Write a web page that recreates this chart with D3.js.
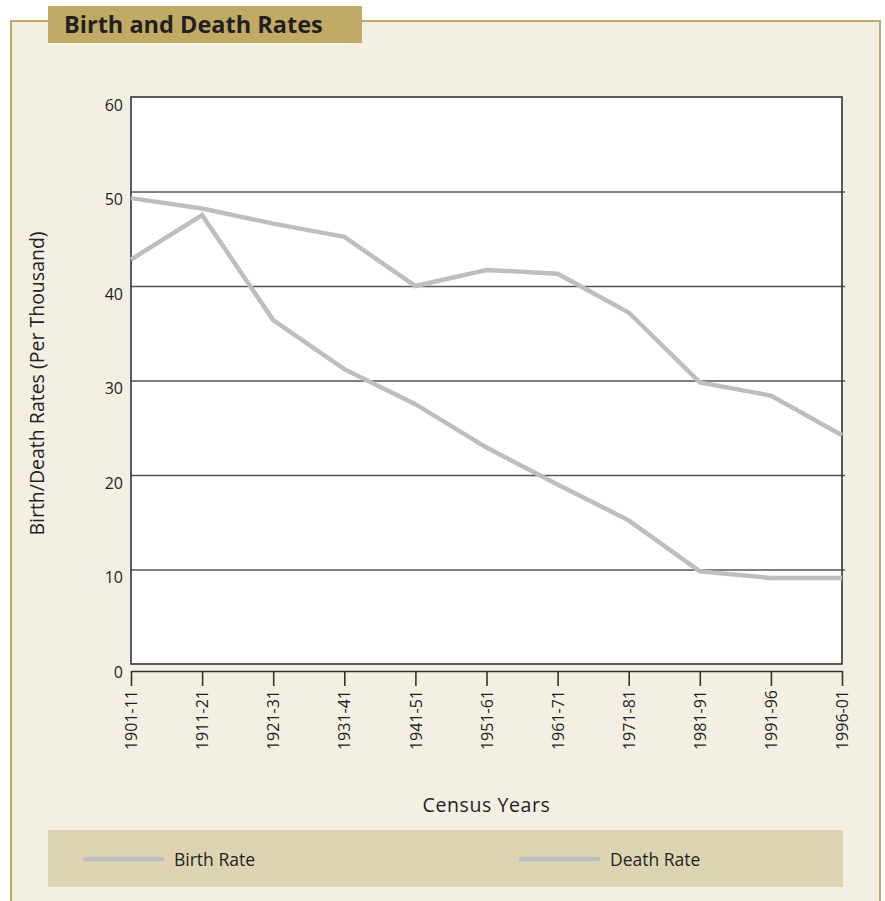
<!DOCTYPE html>
<html>
<head>
<meta charset="utf-8">
<script src="https://cdn.jsdelivr.net/npm/d3@7"></script>
<style>
  html, body { margin: 0; padding: 0; background: #ffffff; }
  svg { display: block; }
  text { font-family: "Open Sans", "Noto Sans", sans-serif; fill: #231f20; }
</style>
</head>
<body>
<svg id="chart" width="885" height="901"></svg>
<script>
// Census periods
const periods = ["1901-11", "1911-21", "1921-31", "1931-41", "1941-51", "1951-61",
                 "1961-71", "1971-81", "1981-91", "1991-96", "1996-01"];
// Rates per thousand population
const birthRate = [49.3, 48.2, 46.6, 45.2, 40.0, 41.7, 41.3, 37.2, 29.8, 28.4, 24.2];
const deathRate = [42.8, 47.5, 36.4, 31.2, 27.5, 22.9, 19.0, 15.2, 9.8, 9.1, 9.1];
const yTicks = [0, 10, 20, 30, 40, 50, 60];
const seriesNames = ["Birth Rate", "Death Rate"];

const svg = d3.select("#chart");

const panelFill = "#f3efe3";
const gold = "#c1a95f";
const lineGrey = "#bebebe";

// Panel background and gold frame
svg.append("rect").attr("x", 10).attr("y", 20).attr("width", 871).attr("height", 900)
  .attr("fill", panelFill);
svg.append("path")
  .attr("d", "M11,901 V21 H880 V901")
  .attr("fill", "none").attr("stroke", gold).attr("stroke-width", 2);

// Title tab
svg.append("rect").attr("x", 48).attr("y", 6).attr("width", 314).attr("height", 37)
  .attr("fill", "#c0aa66");
svg.append("text").attr("x", 64).attr("y", 33)
  .attr("font-size", 23.5).attr("font-weight", 700)
  .text("Birth and Death Rates");

// Scales
const plotLeft = 131, plotRight = 842, plotTop = 97, plotBottom = 664;
const x = d3.scalePoint().domain(periods).range([plotLeft, plotRight]);
const y = d3.scaleLinear().domain([0, 60]).range([plotBottom, plotTop]);

// Plot area
svg.append("rect").attr("x", plotLeft).attr("y", plotTop)
  .attr("width", plotRight - plotLeft).attr("height", plotBottom - plotTop)
  .attr("fill", "#ffffff");

// Horizontal gridlines with value labels
const yAxis = svg.append("g").attr("transform", `translate(${plotLeft},0)`)
  .call(d3.axisLeft(y).tickValues(yTicks).tickSize(-(plotRight - plotLeft + 3)).tickPadding(8));
yAxis.select(".domain").remove();
yAxis.selectAll(".tick line")
  .attr("stroke", "#555555").attr("stroke-width", 1.6)
  .attr("display", d => (d === 0 || d === 60) ? "none" : null);
yAxis.selectAll(".tick text")
  .attr("font-size", 16).attr("font-family", "'Open Sans', sans-serif")
  .attr("fill", "#231f20").attr("dy", "0.82em");

// Plot border
svg.append("rect").attr("x", plotLeft).attr("y", plotTop)
  .attr("width", plotRight - plotLeft).attr("height", plotBottom - plotTop)
  .attr("fill", "none").attr("stroke", "#333333").attr("stroke-width", 1.6);

// Category axis, set slightly below the plot
const xAxis = svg.append("g").attr("transform", "translate(0,671)")
  .call(d3.axisBottom(x).tickSizeInner(15).tickSizeOuter(0).tickPadding(5));
xAxis.select(".domain").attr("stroke", "#333333").attr("stroke-width", 1.6);
xAxis.selectAll(".tick line").attr("stroke", "#333333").attr("stroke-width", 1.6);
xAxis.selectAll(".tick text")
  .attr("font-size", 16).attr("font-family", "'Open Sans', sans-serif")
  .attr("fill", "#231f20")
  .attr("transform", "rotate(-90)")
  .attr("text-anchor", "end")
  .attr("x", -19).attr("y", 0).attr("dy", "0.35em");

// Series lines
const line = d3.line().x((d, i) => x(periods[i])).y(d => y(d));
[birthRate, deathRate].forEach(values => {
  svg.append("path").datum(values)
    .attr("d", line)
    .attr("fill", "none").attr("stroke", lineGrey)
    .attr("stroke-width", 4.5).attr("stroke-linejoin", "miter");
});

// Axis titles
svg.append("text")
  .attr("transform", `translate(44,${(plotTop + plotBottom) / 2 + 3}) rotate(-90)`)
  .attr("text-anchor", "middle").attr("font-size", 19.5)
  .text("Birth/Death Rates (Per Thousand)");
svg.append("text")
  .attr("x", (plotLeft + plotRight) / 2).attr("y", 812)
  .attr("text-anchor", "middle").attr("font-size", 19.5).attr("letter-spacing", 0.6)
  .text("Census Years");

// Legend
svg.append("rect").attr("x", 48).attr("y", 830).attr("width", 795).attr("height", 57)
  .attr("fill", "#ded4b4");
const legendX = [85, 521];
seriesNames.forEach((name, i) => {
  svg.append("line")
    .attr("x1", legendX[i]).attr("x2", legendX[i] + 77)
    .attr("y1", 859).attr("y2", 859)
    .attr("stroke", lineGrey).attr("stroke-width", 4.5).attr("stroke-linecap", "round");
  svg.append("text")
    .attr("x", legendX[i] + 89).attr("y", 865.5)
    .attr("font-size", 17.5)
    .text(name);
});
</script>
</body>
</html>
